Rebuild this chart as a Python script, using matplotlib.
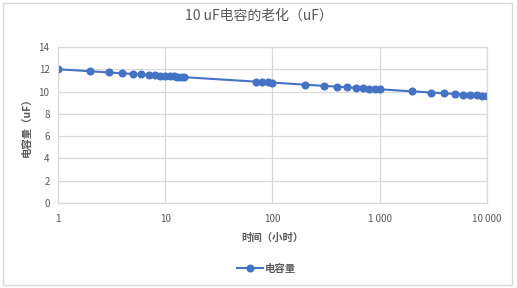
import matplotlib
matplotlib.use("Agg")
import matplotlib.pyplot as plt
from matplotlib.patches import Rectangle
from matplotlib.ticker import FixedLocator, NullLocator

plt.rcParams['font.family'] = ['Noto Sans CJK SC', 'DejaVu Sans']

hours = [1, 2, 3, 4, 5, 6, 7, 8, 9, 10, 11, 12, 13, 14, 15,
         70, 80, 90, 100, 200, 300, 400, 500, 600, 700, 800, 900,
         1000, 2000, 3000, 4000, 5000, 6000, 7000, 8000, 9000, 10000]
capacitance = [12.00, 11.82, 11.71, 11.64, 11.58, 11.53, 11.49, 11.46, 11.43, 11.40,
               11.38, 11.35, 11.33, 11.31, 11.29,
               10.89, 10.86, 10.83, 10.80, 10.62, 10.51, 10.44, 10.38, 10.33, 10.29,
               10.26, 10.23, 10.20, 10.02, 9.91, 9.84, 9.78, 9.73, 9.69, 9.66, 9.63, 9.60]
x_ticks = [1, 10, 100, 1000, 10000]
x_tick_labels = ["1", "10", "100", "1\u2009000", "10\u2009000"]
y_ticks = [0, 2, 4, 6, 8, 10, 12, 14]

title = "10 uF电容的老化（uF）"
xlabel = "时间（小时）"
ylabel = "电容量（uF）"
series_name = "电容量"

color = "#4472C4"
grey_text = "#595959"
grid_c = "#D9D9D9"

fig = plt.figure(figsize=(5.17, 2.88), dpi=100)
fig.patch.set_facecolor("white")
fig.patches.append(Rectangle((0.006, 0.01), 0.985, 0.978, transform=fig.transFigure,
                             fill=False, edgecolor="#D9D9D9", linewidth=1.0))

ax = fig.add_axes([0.112, 0.295, 0.830, 0.542])
ax.plot(hours, capacitance, color=color, linewidth=1.5, marker="o",
        markersize=4.8, label=series_name)
ax.set_xscale("log")
ax.set_xlim(1, 10000)
ax.set_ylim(0, 14)
ax.xaxis.set_major_locator(FixedLocator(x_ticks))
ax.xaxis.set_minor_locator(NullLocator())
ax.set_xticklabels(x_tick_labels)
ax.set_yticks(y_ticks)
ax.grid(True, color=grid_c, linewidth=0.9)
ax.set_axisbelow(True)
for s in ax.spines.values():
    s.set_color(grid_c)
    s.set_linewidth(0.9)
ax.tick_params(length=0, labelsize=7, colors=grey_text, pad=8)
ax.tick_params(axis="y", pad=6)

fig.text(0.5, 0.944, title, ha="center", va="center", fontsize=10, color=grey_text)
fig.text(0.527, 0.175, xlabel, ha="center", va="center", fontsize=7.5,
         color=grey_text, fontweight="bold")
fig.text(0.052, 0.566, ylabel, ha="center", va="center", fontsize=7.5,
         color=grey_text, fontweight="bold", rotation=90)

leg = fig.legend(loc="center", bbox_to_anchor=(0.515, 0.066), frameon=False,
                 fontsize=7.5, handlelength=2.5, handletextpad=0.2)
for t in leg.get_texts():
    t.set_color(grey_text)
    t.set_fontweight("bold")

fig.savefig("out.png", dpi=100, facecolor="white")
